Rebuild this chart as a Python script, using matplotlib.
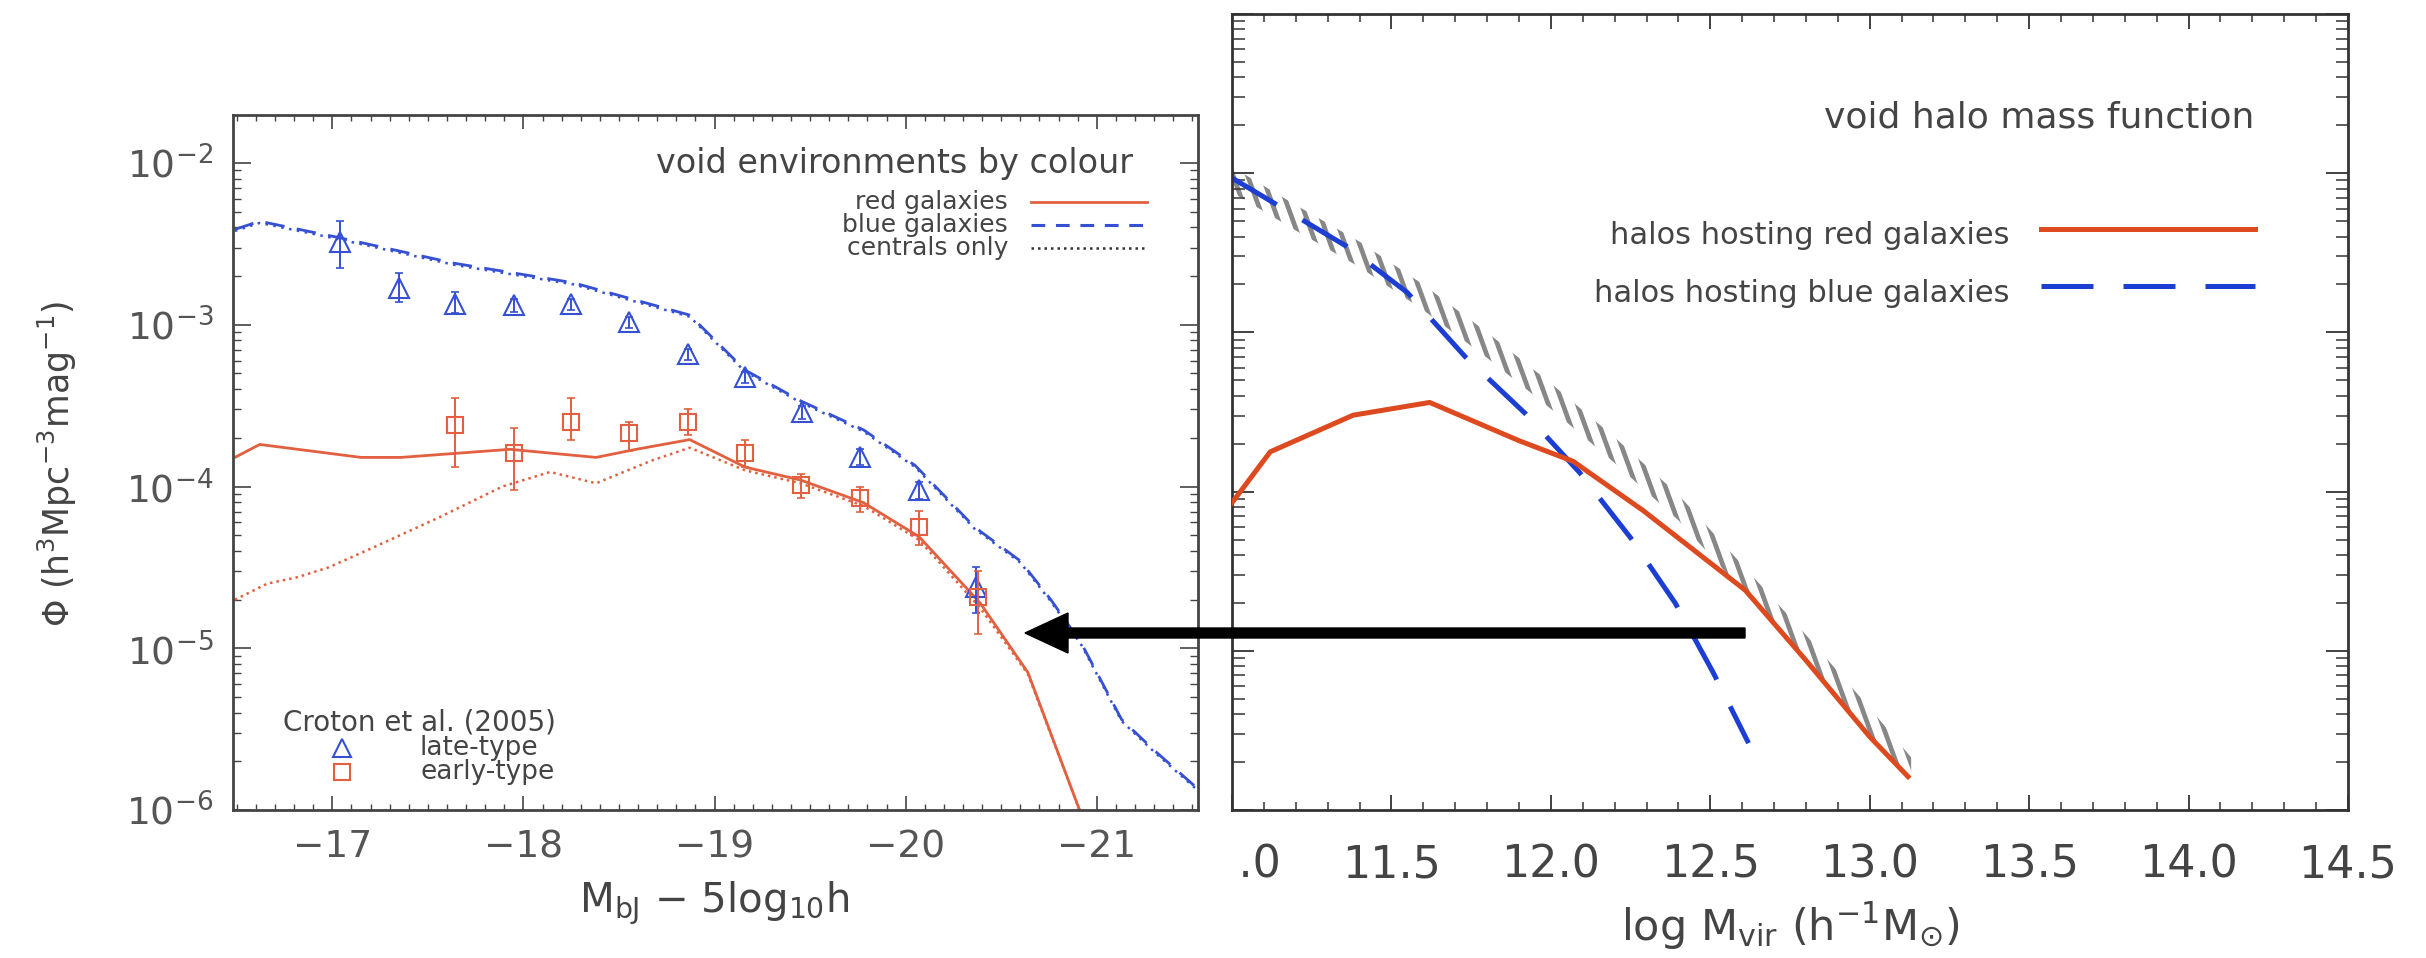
import matplotlib
matplotlib.use('Agg')
import matplotlib.pyplot as plt
import numpy as np
from matplotlib.collections import LineCollection
from matplotlib.lines import Line2D
from matplotlib.patches import FancyArrow, Polygon, Rectangle
from matplotlib.ticker import LogLocator, MultipleLocator, NullFormatter, FormatStrFormatter

W, H = 2426, 958
DPI = 100

# ---- left: void luminosity functions, log10(phi / h^3 Mpc^-3 mag^-1)
blue_mag = [-16.49, -16.62, -17.03, -17.64, -18.26, -18.87, -19.16, -19.45, -19.78,
            -20.05, -20.36, -20.60, -20.76, -20.92, -21.13, -21.30, -21.53]
blue_log = [-2.41, -2.36, -2.46, -2.62, -2.74, -2.94, -3.28, -3.47, -3.65,
            -3.87, -4.25, -4.46, -4.70, -4.97, -5.44, -5.63, -5.87]
blue_cen_mag = [-16.49, -16.62, -17.03, -17.64, -18.26, -18.87, -19.16, -19.45, -19.78,
                -20.05, -20.36, -20.60, -20.76, -20.92, -21.13, -21.30, -21.53]
blue_cen_log = [-2.42, -2.37, -2.47, -2.63, -2.75, -2.95, -3.29, -3.48, -3.66,
                -3.88, -4.26, -4.47, -4.71, -4.98, -5.45, -5.64, -5.88]

red_mag = [-16.49, -16.62, -17.15, -17.36, -17.93, -18.38, -18.59, -18.87, -19.16,
           -19.45, -19.78, -20.07, -20.39, -20.64, -20.91]
red_log = [-3.82, -3.74, -3.82, -3.82, -3.77, -3.82, -3.77, -3.71, -3.88,
           -3.96, -4.10, -4.31, -4.72, -5.15, -6.00]
red_cen_mag = [-16.49, -16.66, -16.82, -16.98, -17.19, -17.56, -17.89, -18.14, -18.38,
               -18.67, -18.87, -19.16, -19.45, -19.78, -20.07, -20.39, -20.64, -20.91]
red_cen_log = [-4.70, -4.60, -4.56, -4.50, -4.39, -4.19, -4.00, -3.91, -3.98,
               -3.84, -3.76, -3.90, -3.98, -4.12, -4.33, -4.75, -5.16, -6.00]

# Croton et al. (2005) void data
late_mag = [-17.04, -17.35, -17.64, -17.95, -18.25, -18.55, -18.86, -19.16, -19.46,
            -19.76, -20.07, -20.37]
late_log = [-2.49, -2.77, -2.87, -2.88, -2.87, -2.98, -3.18, -3.32, -3.54,
            -3.82, -4.02, -4.62]
late_lo = [-2.65, -2.86, -2.93, -2.92, -2.91, -3.02, -3.22, -3.36, -3.58,
           -3.87, -4.08, -4.78]
late_hi = [-2.36, -2.68, -2.80, -2.84, -2.84, -2.95, -3.15, -3.29, -3.50,
           -3.77, -3.97, -4.50]

early_mag = [-17.64, -17.95, -18.25, -18.55, -18.86, -19.16, -19.45, -19.76, -20.07, -20.38]
early_log = [-3.62, -3.79, -3.60, -3.67, -3.60, -3.79, -3.99, -4.07, -4.25, -4.68]
early_lo = [-3.88, -4.02, -3.71, -3.78, -3.68, -3.88, -4.07, -4.16, -4.36, -4.91]
early_hi = [-3.45, -3.64, -3.45, -3.60, -3.52, -3.71, -3.92, -4.00, -4.15, -4.52]

# ---- right: void halo mass function, log10 of number density
red_mvir = [11.0, 11.12, 11.38, 11.62, 11.90, 12.07, 12.29, 12.61, 12.80, 13.0, 13.12]
red_hmf = [-4.07, -3.75, -3.52, -3.44, -3.68, -3.81, -4.12, -4.62, -5.06, -5.54, -5.79]
blue_mvir = [11.0, 11.36, 11.55, 11.73, 11.92, 12.09, 12.25, 12.39, 12.51, 12.62]
blue_hmf = [-2.03, -2.46, -2.75, -3.15, -3.51, -3.88, -4.29, -4.70, -5.14, -5.58]
all_mvir = [11.0, 11.2, 11.4, 11.6, 11.8, 12.0, 12.2, 12.4, 12.6, 12.8, 13.0, 13.13]
all_hmf_lo = [-2.12, -2.36, -2.59, -2.86, -3.16, -3.48, -3.82, -4.18, -4.62,
              -5.06, -5.52, -5.83]
all_hmf_hi = [-1.96, -2.20, -2.43, -2.70, -3.00, -3.32, -3.66, -4.02, -4.46,
              -4.90, -5.36, -5.67]

L_RED = '#e2603f'
L_BLUE = '#3650d4'
R_RED = '#dd4a1f'
R_BLUE = '#1c3ed2'
TXT = '#444444'


def fxy(x, y):
    """pixel position (from top-left) -> figure fraction"""
    return x / W, 1 - y / H


def pow10(vals):
    return 10 ** np.asarray(vals)


plt.rcParams['font.family'] = ['DejaVu Sans']
plt.rcParams['mathtext.fontset'] = 'dejavusans'
plt.rcParams['mathtext.default'] = 'regular'

fig = plt.figure(figsize=(W / DPI, H / DPI), dpi=DPI, facecolor='white')

# ---------------- left panel ----------------
ax_l = fig.add_axes([233 / W, 1 - 810 / H, 965 / W, 695 / H])
ax_l.set_yscale('log')
ax_l.set_xlim(-16.48, -21.53)
ax_l.set_ylim(1e-6, 10 ** -1.703)

ax_l.plot(red_mag, pow10(red_log), color=L_RED, lw=2.0, solid_joinstyle='miter')
ax_l.plot(red_cen_mag, pow10(red_cen_log), color=L_RED, lw=1.8, ls=(0, (1, 1.6)))
ax_l.plot(blue_mag, pow10(blue_log), color=L_BLUE, lw=2.0, ls=(0, (7, 4.5)))
ax_l.plot(blue_cen_mag, pow10(blue_cen_log), color=L_BLUE, lw=1.8, ls=(0, (1, 2.2)))

late_y = pow10(late_log)
ax_l.errorbar(late_mag, late_y, yerr=[late_y - pow10(late_lo), pow10(late_hi) - late_y],
              fmt='none', ecolor=L_BLUE, elinewidth=1.4, capsize=3, capthick=1.2)
ax_l.plot(late_mag, late_y, '^', ms=14, mfc='none', mec=L_BLUE, mew=1.5)

early_y = pow10(early_log)
ax_l.errorbar(early_mag, early_y, yerr=[early_y - pow10(early_lo), pow10(early_hi) - early_y],
              fmt='none', ecolor=L_RED, elinewidth=1.4, capsize=3, capthick=1.2)
ax_l.plot(early_mag, early_y, 's', ms=12, mfc='none', mec=L_RED, mew=1.5)

ax_l.xaxis.set_major_locator(MultipleLocator(1))
ax_l.xaxis.set_minor_locator(MultipleLocator(0.1))
ax_l.yaxis.set_major_locator(LogLocator(base=10, numticks=10))
ax_l.yaxis.set_minor_locator(LogLocator(base=10, subs=np.arange(2, 10), numticks=30))
ax_l.yaxis.set_minor_formatter(NullFormatter())
ax_l.tick_params(which='both', direction='in', top=True, right=True,
                 colors='#444444', labelcolor='#555555')
ax_l.tick_params(axis='x', which='major', length=10, width=1.2, labelsize=27, pad=14)
ax_l.tick_params(axis='x', which='minor', length=4.5, width=1.0)
ax_l.tick_params(axis='y', which='major', length=13, width=1.2, labelsize=27, pad=14)
ax_l.tick_params(axis='y', which='minor', length=6, width=1.0)
for sp in ax_l.spines.values():
    sp.set_color('#444444')
    sp.set_linewidth(2.0)

# ---------------- right panel ----------------
ax_r = fig.add_axes([1232 / W, 1 - 810 / H, 1116 / W, 796 / H])
ax_r.set_yscale('log')
ax_r.set_xlim(11.0, 14.5)
ax_r.set_ylim(1e-6, 1e-1)

# hatched band for the full void halo population
band_x = list(all_mvir) + list(all_mvir[::-1])
band_y = list(pow10(all_hmf_lo)) + list(pow10(all_hmf_hi)[::-1])
band = Polygon(np.column_stack([band_x, band_y]), closed=True, fill=False,
               edgecolor='none', transform=ax_r.transData)
ax_r.add_patch(band)
ax_w, ax_h = 1116, 796
lean = ax_h / np.tan(np.radians(70)) / ax_w
starts = np.arange(0, 1 + lean + 0.02, 14.5 / ax_w)
segs = [[(s, 0), (s - lean, 1)] for s in starts]
hatch = LineCollection(segs, colors='#878787', linewidths=3.4, capstyle='butt',
                       transform=ax_r.transAxes, zorder=1)
ax_r.add_collection(hatch)
hatch.set_clip_path(band)

ax_r.plot(blue_mvir, pow10(blue_hmf), color=R_BLUE, lw=3.6, ls=(0, (10.4, 6)),
          dash_capstyle='butt', zorder=2)
ax_r.plot(red_mvir, pow10(red_hmf), color=R_RED, lw=3.6, zorder=3)

ax_r.xaxis.set_major_locator(MultipleLocator(0.5))
ax_r.xaxis.set_minor_locator(MultipleLocator(0.1))
ax_r.xaxis.set_major_formatter(FormatStrFormatter('%.1f'))
ax_r.yaxis.set_major_locator(LogLocator(base=10, numticks=10))
ax_r.yaxis.set_minor_locator(LogLocator(base=10, subs=np.arange(2, 10), numticks=30))
ax_r.yaxis.set_major_formatter(NullFormatter())
ax_r.yaxis.set_minor_formatter(NullFormatter())
ax_r.tick_params(which='both', direction='in', top=True, right=True,
                 colors='#333333', labelcolor='#444444')
ax_r.tick_params(axis='x', which='major', length=11, width=1.3, labelsize=32, pad=24)
ax_r.tick_params(axis='x', which='minor', length=5.5, width=1.1)
ax_r.tick_params(axis='y', which='major', length=16, width=1.3)
ax_r.tick_params(axis='y', which='minor', length=9, width=1.1)
for sp in ax_r.spines.values():
    sp.set_color('#333333')
    sp.set_linewidth(2.0)

# the left figure sits over the first x label of the right one
fig.add_artist(Rectangle(fxy(1140, 905), 100 / W, 88 / H, transform=fig.transFigure,
                         facecolor='white', edgecolor='none', zorder=5))

# ---------------- labels and keys ----------------
fig.text(*fxy(57, 464), r'$\Phi$ (h$^3$Mpc$^{-3}$mag$^{-1}$)', rotation=90,
         ha='center', va='center', size=25, color=TXT)
fig.text(*fxy(714, 903), r'M$_{\rm bJ}$ $-$ 5log$_{10}$h', ha='center', va='center',
         size=29, color=TXT)
fig.text(*fxy(1790, 926), r'log M$_{\rm vir}$ (h$^{-1}$M$_{\odot}$)', ha='center',
         va='center', size=31, color=TXT)

fig.text(*fxy(1133, 163), 'void environments by colour', ha='right', va='center',
         size=24, color=TXT)
key_l = [('red galaxies', 202, dict(color=L_RED, lw=2.0)),
         ('blue galaxies', 225, dict(color=L_BLUE, lw=2.2, ls=(0, (4.5, 3.5)))),
         ('centrals only', 248, dict(color='#333333', lw=1.8, ls=(0, (1, 1.6))))]
for label, yy, style in key_l:
    fig.text(*fxy(1008, yy), label, ha='right', va='center', size=18, color=TXT)
    x0, y0 = fxy(1031, yy)
    x1, _ = fxy(1147, yy)
    fig.add_artist(Line2D([x0, x1], [y0, y0], transform=fig.transFigure, **style))

fig.text(*fxy(283, 723), 'Croton et al. (2005)', ha='left', va='center', size=20, color=TXT)
for label, yy, mk, col, size in [('late-type', 748, '^', L_BLUE, 13),
                                 ('early-type', 772, 's', L_RED, 11)]:
    mx, my = fxy(342, yy)
    fig.add_artist(Line2D([mx], [my], marker=mk, ms=size, mfc='none', mec=col, mew=1.5,
                          ls='none', transform=fig.transFigure))
    fig.text(*fxy(420, yy), label, ha='left', va='center', size=19, color=TXT)

fig.text(*fxy(2254, 118), 'void halo mass function', ha='right', va='center',
         size=26, color=TXT)
key_r = [('halos hosting red galaxies', 235, 229, dict(color=R_RED, lw=3.6)),
         ('halos hosting blue galaxies', 293, 286,
          dict(color=R_BLUE, lw=3.6, ls=(0, (10.4, 6)), dash_capstyle='butt'))]
for label, ty, ly, style in key_r:
    fig.text(*fxy(2010, ty), label, ha='right', va='center', size=22, color=TXT)
    x0, y0 = fxy(2041, ly)
    x1, _ = fxy(2255, ly)
    fig.add_artist(Line2D([x0, x1], [y0, y0], transform=fig.transFigure, **style))

# arrow linking the two panels
ax0, ay0 = fxy(1745, 633)
fig.add_artist(FancyArrow(ax0, ay0, (1025 - 1745) / W, 0, width=10 / H,
                          head_width=40 / H, head_length=43 / W, length_includes_head=True,
                          color='black', transform=fig.transFigure, zorder=6))

fig.savefig('out.png', dpi=DPI, facecolor='white')
